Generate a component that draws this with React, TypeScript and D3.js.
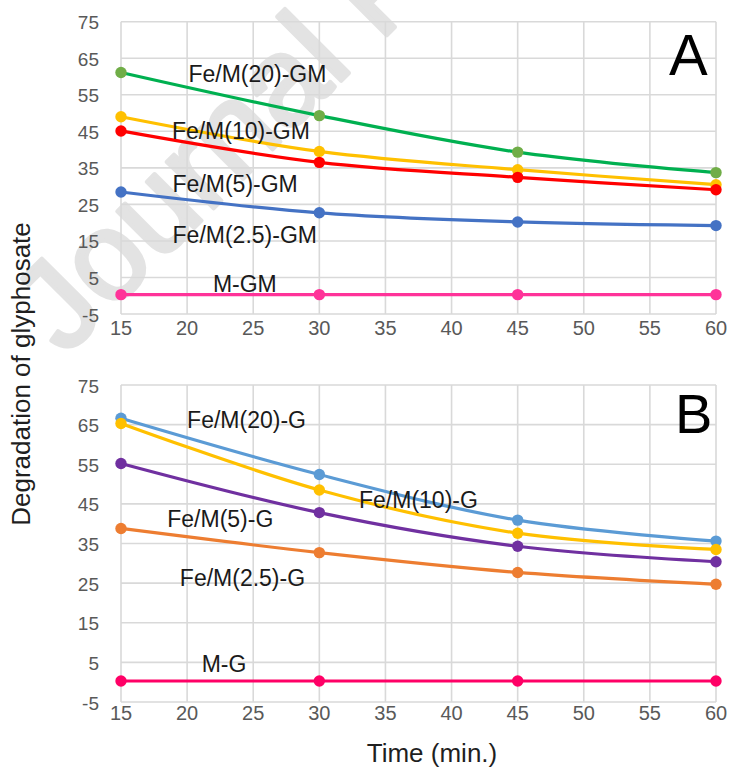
import React from "react";
import * as d3 from "d3";

// Reaction times (min)
const times = [15, 30, 45, 60];

// Panel A: Fe/M catalysts with glyphosate (GM)
const fe20GM = [61.1, 49.3, 39.3, 33.7];
const fe10GM = [49.0, 39.5, 34.5, 30.4];
const fe5GM = [45.1, 36.5, 32.4, 29.0];
const fe25GM = [28.4, 22.7, 20.2, 19.2];
const mGM = [0.3, 0.3, 0.3, 0.3];

// Panel B: Fe/M catalysts with glyphosate (G)
const fe20G = [66.6, 52.4, 40.9, 35.6];
const fe10G = [65.3, 48.5, 37.6, 33.5];
const fe5G = [55.2, 42.8, 34.3, 30.4];
const fe25G = [38.8, 32.7, 27.7, 24.7];
const mG = [0.3, 0.3, 0.3, 0.3];

const xTicks = [15, 20, 25, 30, 35, 40, 45, 50, 55, 60];
const yTicks = [-5, 5, 15, 25, 35, 45, 55, 65, 75];

type Series = { name: string; values: number[]; line: string; marker: string; lx: number; ly: number };

const seriesA: Series[] = [
  { name: "Fe/M(20)-GM", values: fe20GM, line: "#00b050", marker: "#70ad47", lx: 20.1, ly: 58.5 },
  { name: "Fe/M(10)-GM", values: fe10GM, line: "#ffc000", marker: "#ffc000", lx: 18.85, ly: 43.0 },
  { name: "Fe/M(5)-GM", values: fe5GM, line: "#ff0000", marker: "#ff0000", lx: 18.9, ly: 28.5 },
  { name: "Fe/M(2.5)-GM", values: fe25GM, line: "#4472c4", marker: "#4472c4", lx: 18.9, ly: 14.5 },
  { name: "M-GM", values: mGM, line: "#ff3399", marker: "#ff3399", lx: 21.95, ly: 1.1 },
];

const seriesB: Series[] = [
  { name: "Fe/M(20)-G", values: fe20G, line: "#5b9bd5", marker: "#5b9bd5", lx: 20.0, ly: 64.2 },
  { name: "Fe/M(10)-G", values: fe10G, line: "#ffc000", marker: "#ffc000", lx: 33.0, ly: 44.0 },
  { name: "Fe/M(5)-G", values: fe5G, line: "#7030a0", marker: "#7030a0", lx: 18.5, ly: 39.2 },
  { name: "Fe/M(2.5)-G", values: fe25G, line: "#ed7d31", marker: "#ed7d31", lx: 19.45, ly: 24.3 },
  { name: "M-G", values: mG, line: "#ff0066", marker: "#ff0066", lx: 21.1, ly: 2.65 },
];

const FONT = "'Liberation Sans', Arial, sans-serif";

function Panel({ series, top, bottom, letter, xLabelY }: { series: Series[]; top: number; bottom: number; letter: string; xLabelY: number }) {
  const x = d3.scaleLinear().domain([15, 60]).range([121, 716]);
  const y = d3.scaleLinear().domain([-5, 75]).range([bottom, top]);
  const line = d3
    .line<number>()
    .x((_, i) => x(times[i]))
    .y((v) => y(v))
    .curve(d3.curveCardinal.tension(0));

  return (
    <g>
      {yTicks.map((t) => (
        <line key={"h" + t} x1={x(15)} x2={x(60)} y1={y(t)} y2={y(t)} stroke="#d9d9d9" strokeWidth={1.6} />
      ))}
      {xTicks.map((t) => (
        <line key={"v" + t} x1={x(t)} x2={x(t)} y1={y(75)} y2={y(-5)} stroke="#d9d9d9" strokeWidth={1.6} />
      ))}
      {yTicks.map((t) => (
        <text key={"yl" + t} x={99} y={y(t) + 1} textAnchor="end" dominantBaseline="central" fontSize={19} fill="#595959" fontFamily={FONT}>
          {t}
        </text>
      ))}
      {xTicks.map((t) => (
        <text key={"xl" + t} x={x(t)} y={xLabelY} textAnchor="middle" dominantBaseline="central" fontSize={20} fill="#595959" fontFamily={FONT}>
          {t}
        </text>
      ))}
      {series.map((s) => (
        <g key={s.name}>
          <path d={line(s.values) || ""} fill="none" stroke={s.line} strokeWidth={3.2} />
          {s.values.map((v, i) => (
            <circle key={i} cx={x(times[i])} cy={y(v)} r={5.7} fill={s.marker} />
          ))}
        </g>
      ))}
      {series.map((s) => (
        <text key={"lab" + s.name} x={x(s.lx)} y={y(s.ly)} fontSize={23} fill="#1a1a1a" fontFamily={FONT}>
          {s.name}
        </text>
      ))}
      <text x={letter === "A" ? 669 : 675} y={y(75) + (letter === "A" ? 53 : 48)} fontSize={letter === "A" ? 58 : 56} fill="#000" fontFamily={FONT}>
        {letter}
      </text>
    </g>
  );
}

export default function App() {
  return (
    <svg width={730} height={769} style={{ position: "absolute", left: 0, top: 0, background: "#fff" }}>
      <rect width={730} height={769} fill="#fff" />
      <text
        transform="translate(65,357) rotate(-45)"
        fontSize={125}
        fill="#e3e3e3"
        stroke="#e3e3e3"
        strokeWidth={4}
        strokeLinejoin="round"
        fontFamily={FONT}
      >
        Journal Pre-proof
      </text>
      <Panel series={seriesA} top={21.7} bottom={314} letter="A" xLabelY={328} />
      <Panel series={seriesB} top={385} bottom={702} letter="B" xLabelY={713} />
      <text
        transform="translate(21,374) rotate(-90)"
        textAnchor="middle"
        dominantBaseline="central"
        fontSize={26}
        fill="#1f1f1f"
        fontFamily={FONT}
      >
        Degradation of glyphosate
      </text>
      <text x={432} y={762} textAnchor="middle" fontSize={26} fill="#1f1f1f" fontFamily={FONT}>
        Time (min.)
      </text>
    </svg>
  );
}
